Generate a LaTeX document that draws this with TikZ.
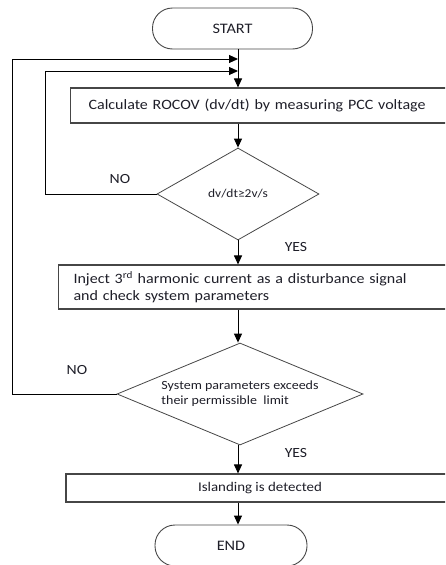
\documentclass[tikz,border=0pt]{standalone}
\usepackage{fontspec}
\setmainfont{Carlito}[FakeStretch=1.12]
\usetikzlibrary{positioning,shapes,calc,arrows.meta}

\begin{document}
\begin{tikzpicture}[x=1pt, y=-1pt, >={Triangle[length=9pt,width=8pt]}]
		\definecolor{mline}{RGB}{70,70,70}
		\definecolor{mtext}{RGB}{30,30,40}
		\tikzset{
			term/.style={draw=mline, line width=0.9pt, rounded corners=20pt, minimum width=160pt, minimum height=41pt, inner sep=0pt, text=mtext, font=\fontsize{14.5}{16}\selectfont},
			procbox/.style={draw=mline, line width=1.1pt, inner ysep=0pt, text=mtext, font=\fontsize{14.3}{17}\selectfont},
			decision/.style={draw=mline, line width=0.8pt, diamond, inner sep=0pt},
			qtext/.style={text=mtext, align=left},
			flow/.style={black, line width=1pt, ->},
			ans/.style={text=mtext, font=\fontsize{14}{16}\selectfont}
		}
		\clip (0,0) rectangle (445,565);

		% Start
		\node[term] (st) at (232.5,28.5) {START};
		\coordinate (j1) at (238,59);
		\coordinate (j2) at (238,71);

		% Calculate ROCOV
		\node[procbox, anchor=west, minimum height=35pt, inner xsep=18pt,
			text width=362pt, align=left
			] (calc) at (70,105.5) {Calculate ROCOV (dv/dt) by measuring PCC voltage};

		% First check
		\node[decision, minimum width=162pt, minimum height=92pt,
			label={[qtext, font=\fontsize{12}{15}\selectfont]center:{dv/dt≥2v/s}}
			] (dvdt) at (238,194) {};
		\node[ans] (no1) at (120,179) {NO};
		\node[ans] (yes1) at (296,247) {YES};

		% Inject harmonic
		\node[procbox, anchor=west, minimum height=44pt, inner xsep=15pt,
			text width=372pt, align=left
			] (inj) at (58,287) {Inject 3\textsuperscript{rd} harmonic current as a disturbance signal\\and check system parameters};

		% Second check
		\node[decision, minimum width=246pt, minimum height=102pt,
			label={[qtext, font=\fontsize{12.5}{15}\selectfont]center:{System parameters exceeds\\their permissible\ \ limit}}
			] (sys) at (240,394) {};
		\node[ans] (no2) at (77,370) {NO};
		\node[ans] (yes2) at (296,453) {YES};

		% Islanding detected
		\node[procbox, minimum width=388pt, minimum height=28pt,
			font=\fontsize{13.3}{16}\selectfont
			] (isl) at (260,488) {Islanding is detected};

		% End
		\node[term, minimum width=152pt] (en) at (231,545.5) {END};

		% Loop corners
		\coordinate (lpa) at (45,71);
		\coordinate (lpb) at (12,59);

		% Edges
		\draw[flow] (st.south -| j1) -- (j1 |- calc.north);
		\draw[flow] (j1 |- calc.south) -- (j1 |- dvdt.north);
		\draw[flow] (j1 |- dvdt.south) -- (j1 |- inj.north);
		\draw[flow] (j1 |- inj.south) -- (j1 |- sys.north);
		\draw[flow] (j1 |- sys.south) -- (j1 |- isl.north);
		\draw[flow] (j1 |- isl.south) -- (j1 |- en.north);
		\draw[flow] (dvdt.west) -| (lpa) -- (j2);
		\draw[flow] (sys.west) -| (lpb) -- (j1);
	\end{tikzpicture}
\end{document}
